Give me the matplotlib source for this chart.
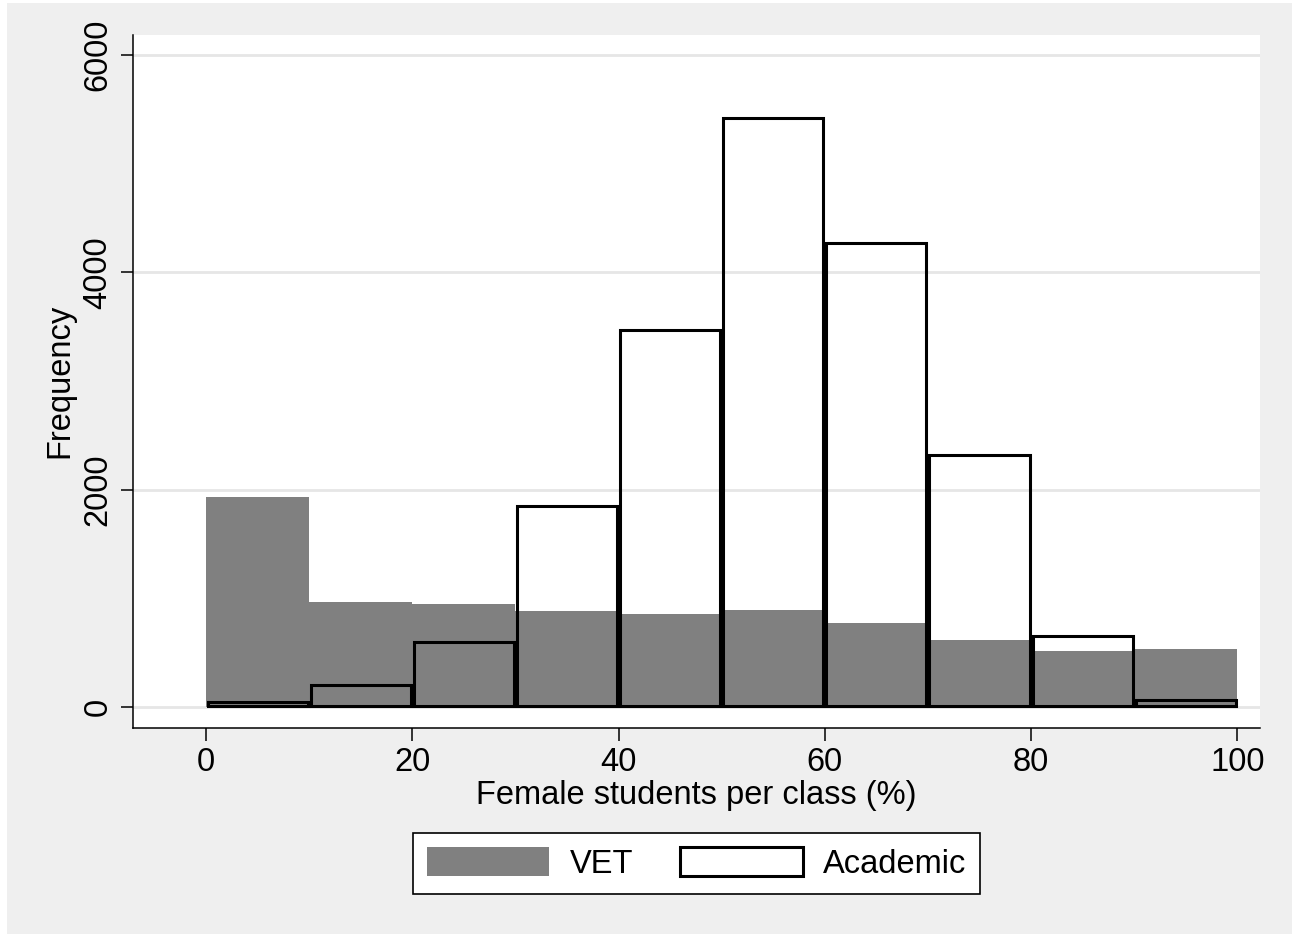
import matplotlib
matplotlib.use("Agg")
import matplotlib.pyplot as plt
from matplotlib.patches import Rectangle, Patch
import numpy as np

plt.rcParams['font.family'] = ['Liberation Sans', 'DejaVu Sans']

# histogram bins (percent female students per class)
bin_edges = [0, 10, 20, 30, 40, 50, 60, 70, 80, 90, 100]
vet_counts = [1930, 970, 950, 880, 860, 890, 775, 615, 515, 535]
academic_counts = [65, 220, 610, 1860, 3480, 5430, 4280, 2330, 670, 75]
y_ticks = [0, 2000, 4000, 6000]
x_ticks = [0, 20, 40, 60, 80, 100]

FS = 23.5

fig = plt.figure(figsize=(12.92, 9.34), dpi=100, facecolor='white')
# Stata-like light gray graph region
fig.patches.append(Rectangle((7 / 1292, 0), 1, 1 - 3 / 934, transform=fig.transFigure,
                             facecolor='#efefef', edgecolor='none', zorder=-10))

ax = fig.add_axes([133 / 1292, 1 - 727.7 / 934, (1260 - 133) / 1292, (727.7 - 35) / 934])
ax.set_facecolor('white')

lefts = np.array(bin_edges[:-1], dtype=float)
widths = np.diff(bin_edges).astype(float)

# VET: solid gray bars
ax.bar(lefts, vet_counts, width=widths, align='edge', color='#808080',
       edgecolor='none', zorder=2, label='VET')

# Academic: hollow black outlines drawn inside the bin
inset_x = 0.15
inset_y = 14
ax.bar(lefts + inset_x, np.array(academic_counts) - 2 * inset_y, width=widths - 2 * inset_x,
       bottom=inset_y, align='edge', facecolor='none', edgecolor='black',
       linewidth=2.2, zorder=3)

ax.set_xlim(-7.08, 102.2)
ax.set_ylim(-190, 6184)
ax.set_xticks(x_ticks)
ax.set_yticks(y_ticks)
ax.yaxis.grid(True, color='#e6e6e6', linewidth=2.0, zorder=0)
ax.set_axisbelow(True)

for s in ['top', 'right']:
    ax.spines[s].set_visible(False)
for s in ['left', 'bottom']:
    ax.spines[s].set_linewidth(1.1)

ax.tick_params(axis='both', direction='out', length=9, width=1.1, labelsize=FS)
ax.tick_params(axis='x', pad=5)
ax.tick_params(axis='y', pad=5)
for lab in ax.get_yticklabels():
    lab.set_rotation(90)
    lab.set_va('center')
    lab.set_ha('right')

ax.set_ylabel('Frequency', fontsize=FS)
ax.yaxis.set_label_coords(-0.051, 0.5)
ax.set_xlabel('Female students per class (%)', fontsize=FS)
ax.xaxis.set_label_coords(0.5, -0.075)

handles = [Patch(facecolor='#808080', edgecolor='none'),
           Patch(facecolor='white', edgecolor='black', linewidth=2.2)]
leg = fig.legend(handles, ['VET', 'Academic'], loc='center',
                 bbox_to_anchor=(696.5 / 1292, 1 - 863.5 / 934), ncol=2,
                 fontsize=FS, frameon=True, fancybox=False,
                 handlelength=3.75, handleheight=1.0, handletextpad=0.62,
                 columnspacing=1.45, borderpad=0.42, borderaxespad=0)
leg.get_frame().set_edgecolor('black')
leg.get_frame().set_linewidth(1.2)
leg.get_frame().set_facecolor('white')
leg.get_frame().set_alpha(1)

fig.savefig('out.png', dpi=100, facecolor=fig.get_facecolor())
